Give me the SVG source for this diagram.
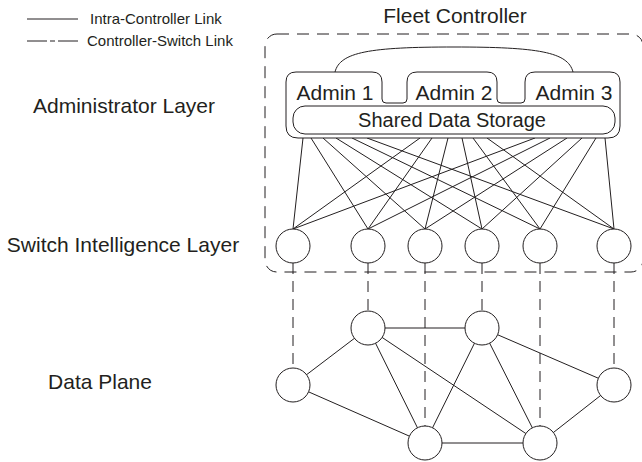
<svg xmlns="http://www.w3.org/2000/svg" width="642" height="462" viewBox="0 0 642 462">
<style>
text{font-family:"Liberation Sans",Arial,sans-serif;fill:#231f20}
.big{font-size:21px}
.sds{font-size:20px}
.leg{font-size:15px}
.ln{stroke:#231f20;stroke-width:1;fill:none}
.dash{stroke:#231f20;stroke-width:1;fill:none;stroke-dasharray:11 7}
.nd{fill:#fff;stroke:#231f20;stroke-width:1}
</style>
<rect width="642" height="462" fill="#fff"/>
<g id="legend">
<line class="ln" x1="27" y1="19" x2="78" y2="19"/>
<text class="leg" x="90" y="24">Intra-Controller Link</text>
<line class="ln" x1="27" y1="41" x2="78" y2="41" stroke-dasharray="20 3 5 3 20"/>
<text class="leg" x="87" y="46">Controller-Switch Link</text>
</g>
<g id="layer-labels">
<text class="big" x="124" y="113" text-anchor="middle">Administrator Layer</text>
<text class="big" x="123" y="252" text-anchor="middle">Switch Intelligence Layer</text>
<text class="big" x="100" y="389" text-anchor="middle">Data Plane</text>
</g>
<g id="fleet-controller">
<rect x="265" y="34" width="378" height="238" rx="12" fill="none" stroke="#231f20" stroke-width="1" stroke-dasharray="12 8"/>
<text class="big" x="455" y="23" text-anchor="middle">Fleet Controller</text>
</g>
<g id="connectors">
<path class="ln" d="M335,72 C340,52 370,47 454,47 C538,47 568,52 573,72"/>
<g id="fan">
<line class="ln" x1="303" y1="138" x2="293" y2="229"/>
<line class="ln" x1="311" y1="138" x2="368" y2="229"/>
<line class="ln" x1="323" y1="138" x2="425" y2="229"/>
<line class="ln" x1="336" y1="138" x2="482" y2="229"/>
<line class="ln" x1="352" y1="138" x2="540" y2="229"/>
<line class="ln" x1="367" y1="138" x2="614" y2="229"/>
<line class="ln" x1="420" y1="138" x2="293" y2="229"/>
<line class="ln" x1="432" y1="138" x2="368" y2="229"/>
<line class="ln" x1="448" y1="138" x2="425" y2="229"/>
<line class="ln" x1="462" y1="138" x2="482" y2="229"/>
<line class="ln" x1="473" y1="138" x2="540" y2="229"/>
<line class="ln" x1="487" y1="138" x2="614" y2="229"/>
<line class="ln" x1="535" y1="138" x2="293" y2="229"/>
<line class="ln" x1="550" y1="138" x2="368" y2="229"/>
<line class="ln" x1="567" y1="138" x2="425" y2="229"/>
<line class="ln" x1="582" y1="138" x2="482" y2="229"/>
<line class="ln" x1="596" y1="138" x2="540" y2="229"/>
<line class="ln" x1="605" y1="138" x2="614" y2="229"/>
</g>
<g id="controller-switch">
<line class="dash" x1="293" y1="263" x2="293" y2="368"/>
<line class="dash" x1="368" y1="263" x2="368" y2="311"/>
<line class="dash" x1="425" y1="263" x2="425" y2="426"/>
<line class="dash" x1="482" y1="263" x2="482" y2="311"/>
<line class="dash" x1="540" y1="263" x2="540" y2="426"/>
<line class="dash" x1="614" y1="263" x2="614" y2="368"/>
</g>
<g id="data-links">
<line class="ln" x1="293" y1="385" x2="368" y2="328"/>
<line class="ln" x1="293" y1="385" x2="425" y2="443"/>
<line class="ln" x1="368" y1="328" x2="482" y2="328"/>
<line class="ln" x1="368" y1="328" x2="425" y2="443"/>
<line class="ln" x1="368" y1="328" x2="540" y2="443"/>
<line class="ln" x1="482" y1="328" x2="425" y2="443"/>
<line class="ln" x1="482" y1="328" x2="540" y2="443"/>
<line class="ln" x1="482" y1="328" x2="614" y2="385"/>
<line class="ln" x1="425" y1="443" x2="540" y2="443"/>
<line class="ln" x1="540" y1="443" x2="614" y2="385"/>
</g>
</g>
<g id="admin-group">
<path class="nd" d="M286,82 Q286,72 296,72 H372 Q382,72 382,82 V99 Q382,103 386,103 H403 Q407,103 407,99 V82 Q407,72 417,72 H487 Q497,72 497,82 V99 Q497,103 501,103 H521 Q525,103 525,99 V82 Q525,72 535,72 H610 Q620,72 620,82 V126 Q620,138 608,138 H298 Q286,138 286,126 Z"/>
<text class="big" x="335" y="100" text-anchor="middle">Admin 1</text>
<text class="big" x="454" y="100" text-anchor="middle">Admin 2</text>
<text class="big" x="574" y="100" text-anchor="middle">Admin 3</text>
</g>
<g id="shared-data-storage">
<rect class="nd" x="293" y="106" width="322" height="28" rx="12"/>
<text class="sds" x="452" y="127" text-anchor="middle">Shared Data Storage</text>
</g>
<g id="switches">
<circle class="nd" cx="293" cy="246" r="17"/>
<circle class="nd" cx="368" cy="246" r="17"/>
<circle class="nd" cx="425" cy="246" r="17"/>
<circle class="nd" cx="482" cy="246" r="17"/>
<circle class="nd" cx="540" cy="246" r="17"/>
<circle class="nd" cx="614" cy="246" r="17"/>
</g>
<g id="data-plane">
<circle class="nd" cx="293" cy="385" r="17"/>
<circle class="nd" cx="368" cy="328" r="17"/>
<circle class="nd" cx="482" cy="328" r="17"/>
<circle class="nd" cx="614" cy="385" r="17"/>
<circle class="nd" cx="425" cy="443" r="17"/>
<circle class="nd" cx="540" cy="443" r="17"/>
</g>
</svg>
